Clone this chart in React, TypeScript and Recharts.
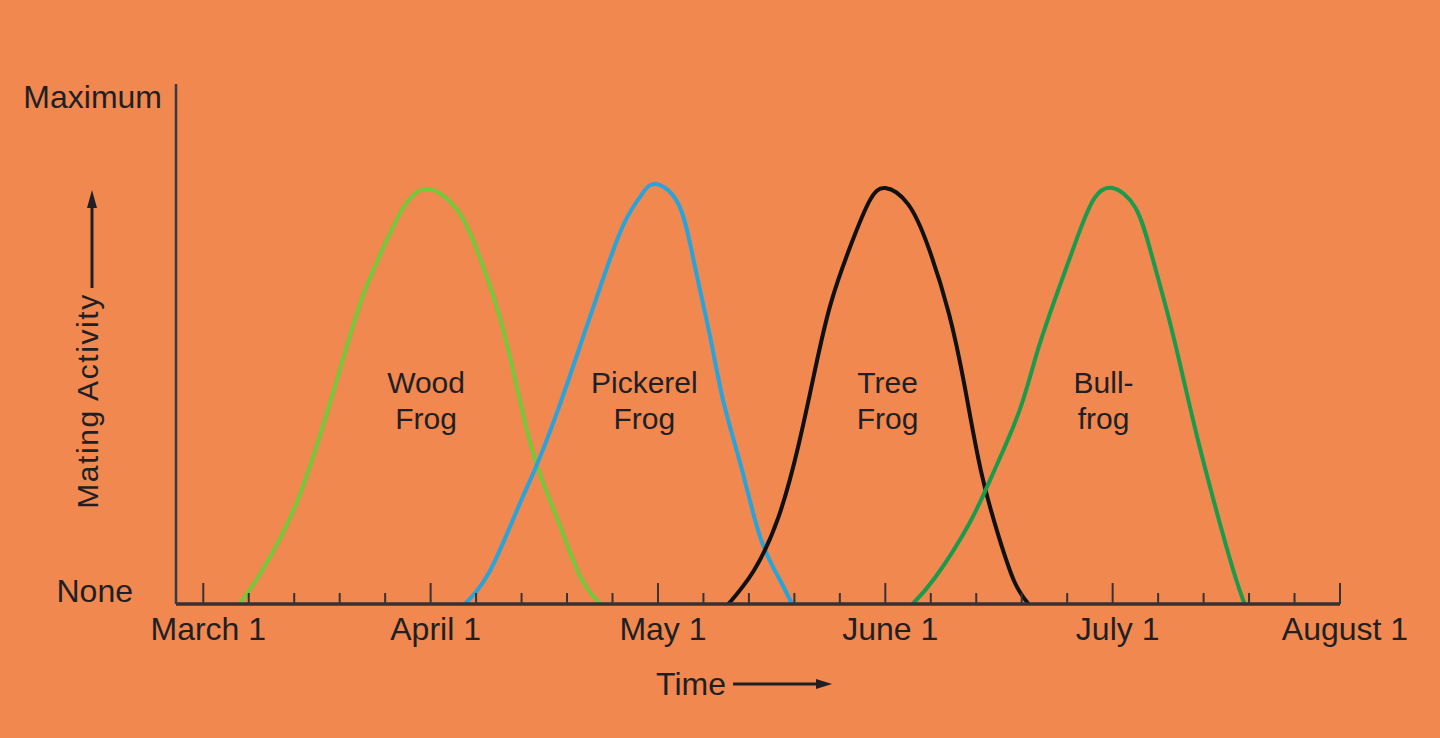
import { ComposedChart, Line, XAxis, YAxis, ReferenceDot } from 'recharts';

// Month boundaries on the time axis (one unit = one month, 0 = March 1)
const monthLabels = ['March 1', 'April 1', 'May 1', 'June 1', 'July 1', 'August 1'];
const yTicks = [0, 100];
const yTickLabels = ['None', 'Maximum'];

// Mating activity curves (m = months after March 1, v = % of maximum)
const woodFrog = [
  { m: 0.16, v: 0 }, { m: 0.26, v: 6.7 }, { m: 0.41, v: 20 }, { m: 0.53, v: 35.8 },
  { m: 0.6, v: 46.2 }, { m: 0.69, v: 59.5 }, { m: 0.78, v: 69.4 }, { m: 0.88, v: 78.5 },
  { m: 0.99, v: 82.2 }, { m: 1.12, v: 77.9 }, { m: 1.21, v: 69.4 }, { m: 1.3, v: 57.5 },
  { m: 1.38, v: 42.9 }, { m: 1.46, v: 28.5 }, { m: 1.56, v: 16.6 }, { m: 1.66, v: 5.3 },
  { m: 1.75, v: 0 },
];
const pickerelFrog = [
  { m: 1.15, v: 0 }, { m: 1.26, v: 6.5 }, { m: 1.38, v: 18.6 }, { m: 1.47, v: 27.9 },
  { m: 1.57, v: 39.7 }, { m: 1.67, v: 52.8 }, { m: 1.76, v: 64.6 }, { m: 1.85, v: 75.3 },
  { m: 1.93, v: 81.2 }, { m: 1.99, v: 83.2 }, { m: 2.09, v: 79.2 }, { m: 2.16, v: 67.4 },
  { m: 2.23, v: 52.8 }, { m: 2.29, v: 39.7 }, { m: 2.37, v: 26.5 }, { m: 2.45, v: 13.2 },
  { m: 2.53, v: 5.3 }, { m: 2.59, v: 0 },
];
const treeFrog = [
  { m: 2.31, v: 0 }, { m: 2.42, v: 6.5 }, { m: 2.53, v: 17.2 }, { m: 2.62, v: 31.8 },
  { m: 2.69, v: 46.2 }, { m: 2.76, v: 59.5 }, { m: 2.85, v: 71.3 }, { m: 2.93, v: 79.8 },
  { m: 3.0, v: 82.4 }, { m: 3.1, v: 79.2 }, { m: 3.19, v: 70.6 }, { m: 3.28, v: 57.5 },
  { m: 3.35, v: 42.9 }, { m: 3.42, v: 26.5 }, { m: 3.5, v: 13.2 }, { m: 3.57, v: 4.2 },
  { m: 3.63, v: 0 },
];
const bullFrog = [
  { m: 3.12, v: 0 }, { m: 3.22, v: 5.3 }, { m: 3.37, v: 16 }, { m: 3.48, v: 26.5 },
  { m: 3.59, v: 38.3 }, { m: 3.67, v: 50.2 }, { m: 3.76, v: 62.1 }, { m: 3.85, v: 73.3 },
  { m: 3.92, v: 80.4 }, { m: 4.0, v: 82.4 }, { m: 4.1, v: 78.5 }, { m: 4.17, v: 69.4 },
  { m: 4.25, v: 56.1 }, { m: 4.32, v: 42.9 }, { m: 4.39, v: 29.8 }, { m: 4.48, v: 14.6 },
  { m: 4.54, v: 5.3 }, { m: 4.58, v: 0 },
];

const frogNames = [['Wood', 'Frog'], ['Pickerel', 'Frog'], ['Tree', 'Frog'], ['Bull-', 'frog']];
const frogLabelMonths = [0.98, 1.94, 3.01, 3.96];
const frogLabelLevel = 41.7;

const BG = '#F08850';
const INK = '#1f1f24';
const FONT = '"Liberation Sans", Arial, Helvetica, sans-serif';

// weekly-ish ticks, 5 per month
const xTicks = Array.from({ length: 26 }, (_, i) => Math.round(i * 2) / 10);

function TimeTick({ x, y, payload }: any) {
  const k = Math.round(payload.value * 5);
  const major = k % 5 === 0;
  return (
    <g>
      <line x1={x} x2={x} y1={y} y2={y - (major ? 21 : 11)} stroke="#3a3232" strokeWidth={2} />
      {major && (
        <text x={x + 5} y={y + 36} textAnchor="middle" fontSize={32} fill={INK} fontFamily={FONT}>
          {monthLabels[k / 5]}
        </text>
      )}
    </g>
  );
}

function LevelTick({ x, y, payload }: any) {
  const i = yTicks.indexOf(payload.value);
  const isMax = i === 1;
  return (
    <text
      x={x - (isMax ? 14 : 43)}
      y={y + (isMax ? 9 : -2)}
      textAnchor="end"
      fontSize={32}
      fill={INK}
      fontFamily={FONT}
    >
      {yTickLabels[i]}
    </text>
  );
}

function ActivityLabel({ viewBox }: any) {
  const cx = viewBox.x + 98;
  const cy = viewBox.y + 317;
  const ax = viewBox.x + 92;
  return (
    <g>
      <text
        x={cx}
        y={cy}
        transform={`rotate(-90, ${cx}, ${cy})`}
        textAnchor="middle"
        fontSize={30}
        letterSpacing={1.6}
        fill={INK}
        fontFamily={FONT}
      >
        Mating Activity
      </text>
      <line x1={ax} x2={ax} y1={viewBox.y + 204} y2={viewBox.y + 120} stroke={INK} strokeWidth={3} />
      <polygon
        points={`${ax - 5},${viewBox.y + 124} ${ax + 5},${viewBox.y + 124} ${ax},${viewBox.y + 106}`}
        fill={INK}
      />
    </g>
  );
}

function TimeLabel({ viewBox }: any) {
  const tx = viewBox.x + 515;
  const by = viewBox.y + 91;
  const ay = viewBox.y + 80;
  return (
    <g>
      <text x={tx} y={by} textAnchor="middle" fontSize={32} fill={INK} fontFamily={FONT}>
        Time
      </text>
      <line x1={viewBox.x + 557} x2={viewBox.x + 645} y1={ay} y2={ay} stroke={INK} strokeWidth={3} />
      <polygon
        points={`${viewBox.x + 640},${ay - 5} ${viewBox.x + 640},${ay + 5} ${viewBox.x + 656},${ay}`}
        fill={INK}
      />
    </g>
  );
}

function FrogName({ cx, cy, idx }: any) {
  return (
    <text x={cx} y={cy} textAnchor="middle" fontSize={30} fill={INK} fontFamily={FONT}>
      <tspan x={cx}>{frogNames[idx][0]}</tspan>
      <tspan x={cx} dy={36}>{frogNames[idx][1]}</tspan>
    </text>
  );
}

export default function App() {
  const series = [
    { key: 'wood', data: woodFrog, color: '#76C83A' },
    { key: 'pickerel', data: pickerelFrog, color: '#2AA2DA' },
    { key: 'tree', data: treeFrog, color: '#111111' },
    { key: 'bull', data: bullFrog, color: '#1C9A4C' },
  ];

  return (
    <div style={{ width: 1440, height: 738, background: BG }}>
      <style>{'body{margin:0}'}</style>
      <ComposedChart width={1440} height={738} margin={{ top: 84, right: 100, bottom: 74, left: 0 }}>
        <XAxis
          type="number"
          dataKey="m"
          domain={[-0.12, 5]}
          ticks={xTicks}
          interval={0}
          tickSize={0}
          tickMargin={0}
          tickLine={false}
          tick={<TimeTick />}
          height={60}
          axisLine={{ stroke: '#3a3030', strokeWidth: 3.5 }}
          allowDataOverflow
          label={{ content: (p: any) => <TimeLabel {...p} /> }}
        />
        <YAxis
          type="number"
          domain={[0, 103]}
          ticks={yTicks}
          width={176}
          tickSize={0}
          tickMargin={0}
          tickLine={false}
          tick={<LevelTick />}
          axisLine={{ stroke: '#3a3a3a', strokeWidth: 2.5 }}
          label={{ content: (p: any) => <ActivityLabel {...p} /> }}
        />
        {series.map((s) => (
          <Line
            key={s.key}
            data={s.data}
            dataKey="v"
            type="natural"
            stroke={s.color}
            strokeWidth={4}
            dot={false}
            activeDot={false}
            isAnimationActive={false}
          />
        ))}
        {frogLabelMonths.map((m, i) => (
          <ReferenceDot
            key={i}
            x={m}
            y={frogLabelLevel}
            r={0}
            shape={(p: any) => <FrogName {...p} idx={i} />}
          />
        ))}
      </ComposedChart>
    </div>
  );
}
